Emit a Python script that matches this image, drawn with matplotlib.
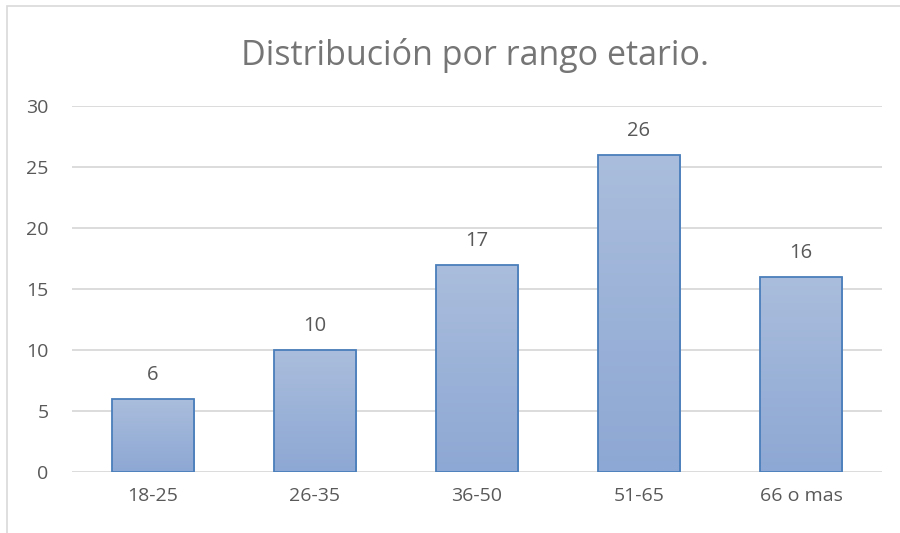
import numpy as np
import matplotlib.pyplot as plt
from matplotlib.colors import LinearSegmentedColormap
from matplotlib.patches import Rectangle

# data
categories = ['18-25', '26-35', '36-50', '51-65', '66 o mas']
counts = [6, 10, 17, 26, 16]
y_ticks = [0, 5, 10, 15, 20, 25, 30]
title = 'Distribución por rango etario.'

plt.rcParams['font.family'] = ['Open Sans', 'DejaVu Sans']

text_color = '#595959'
grid_color = '#D9D9D9'
edge_color = '#4A7EBB'
grad = LinearSegmentedColormap.from_list('bar', ['#8DA8D4', '#AABDDC'])


def main():
    fig = plt.figure(figsize=(9, 5.33), dpi=100)
    ax = fig.add_axes([0.08, 0.1144, 0.90, 0.6866])

    # chart border (Excel chart area)
    fig.add_artist(Rectangle((7 / 900, -0.01), 1.0, 1 - 6 / 533 + 0.01,
                             transform=fig.transFigure, fill=False,
                             edgecolor='#D9D9D9', linewidth=1.2))

    x = np.arange(len(categories))
    bars = ax.bar(x, counts, width=0.51, color='none', edgecolor=edge_color,
                  linewidth=1.3, zorder=3)

    gradient = np.linspace(0, 1, 256).reshape(-1, 1)
    for b in bars:
        x0, y0 = b.get_x(), b.get_y()
        w, h = b.get_width(), b.get_height()
        im = ax.imshow(gradient, cmap=grad, aspect='auto', origin='lower',
                       extent=[x0, x0 + w, y0, y0 + h], zorder=2)
        im.set_clip_path(b)

    for xi, v in zip(x, counts):
        ax.annotate(str(v), (xi, v), xytext=(0, 17), textcoords='offset points',
                    ha='center', va='center', fontsize=14.5, color=text_color)

    ax.set_xlim(-0.5, len(categories) - 0.5)
    ax.set_ylim(0, 30)
    ax.set_yticks(y_ticks)
    ax.set_xticks(x)
    ax.set_xticklabels(categories)
    ax.yaxis.grid(True, color=grid_color, linewidth=1.3, zorder=0)
    ax.set_axisbelow(True)
    for s in ax.spines.values():
        s.set_visible(False)
    ax.tick_params(axis='both', length=0, labelsize=14, labelcolor=text_color)
    ax.tick_params(axis='y', pad=17)
    ax.tick_params(axis='x', pad=11)

    fig.text(0.528, 0.895, title, ha='center', va='center', fontsize=24.5,
             color='#757575')

    fig.savefig('out.png', dpi=100)


if __name__ == '__main__':
    main()
